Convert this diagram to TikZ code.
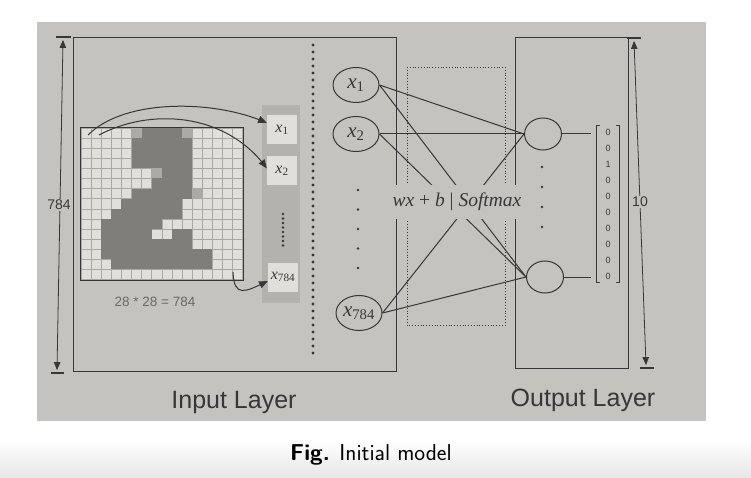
\documentclass[tikz,border=0pt]{standalone}
\usepackage{fontspec}
\setmainfont{Liberation Serif}
\newfontfamily\arialfont{Liberation Sans}
\usetikzlibrary{shapes,arrows,positioning}

\definecolor{pagina}{RGB}{197,195,192}
\definecolor{tinta}{RGB}{55,55,55}
\definecolor{celda}{RGB}{224,223,220}
\definecolor{rejilla}{RGB}{170,168,165}
\definecolor{oscuro}{RGB}{128,126,123}
\definecolor{medio}{RGB}{172,170,167}
\definecolor{franja}{RGB}{180,178,175}
\newcommand\varx[1]{\textit{x}\textsubscript{#1}}

\begin{document}
\begin{tikzpicture}[x=1pt,y=-1pt]
 \tikzset{neuron node/.style={ellipse, draw=tinta, line width=1pt, inner sep=0pt,
 		minimum width=46pt, minimum height=35pt, text=tinta,
 		font=\fontsize{21}{22}\selectfont}, }
 \tikzset{output node/.style={ellipse, draw=tinta, line width=1pt,
 		minimum width=37pt, minimum height=32pt}, }
 \tikzset{feature node/.style={rectangle, fill=celda, minimum width=30pt,
 		minimum height=29pt, inner sep=0pt, text=tinta,
 		font=\fontsize{16}{17}\selectfont}, }
 \tikzset{label node/.style={fill=pagina, inner xsep=2pt, inner ysep=8pt,
 		text=tinta, font=\fontsize{19.5}{21}\selectfont}, }
 \tikzset{dim node/.style={fill=pagina, inner sep=1pt, text=tinta,
 		font=\arialfont\fontsize{14}{15}\selectfont}, }
 \tikzset{vector node/.style={align=center, inner xsep=4pt, inner ysep=3pt,
 		minimum width=23pt, text=tinta, font=\arialfont\fontsize{9}{16}\selectfont}, }
 \tikzset{layer node/.style={text=tinta, font=\arialfont\fontsize{25}{28}\selectfont}, }
 \tikzset{linea/.style={draw=tinta, line width=1pt},}
 \tikzset{flecha/.style={-triangle 45, draw=tinta, line width=1pt},}
 \tikzset{cota/.style={triangle 45-triangle 45, draw=tinta, line width=0.8pt},}
 \tikzset{puntos/.style={draw=tinta, line width=3.4pt, line cap=round,
 		dash pattern=on 0pt off 7pt},}

 \useasboundingbox (0,0) rectangle (751,478);
 \fill[white] (0,0) rectangle (751,478);
 \shade[top color=white, bottom color=black!10] (0,440) rectangle (751,478);
 \fill[pagina] (37,22) rectangle (706,421);

 % capas
 \draw[linea] (73,38) rectangle (396,371);
 \draw[linea] (515,38) rectangle (628,368);
 \draw[draw=tinta, dotted, line width=0.8pt] (407,67) rectangle (505,325);
 \draw[puntos] (313,45) -- (313,355);

 % cotas
 \coordinate (a1) at (63,40);
 \coordinate (a2) at (57,370);
 \draw[cota] (a1) -- (a2);
 \draw[tinta, line width=1.6pt] (56,37) -- (71,37);
 \draw[tinta, line width=1.6pt] (51,373) -- (64,373);
 \node[dim node] (d1) at (59,205) {784};
 \coordinate (b1) at (634,41);
 \coordinate (b2) at (646,365);
 \draw[cota] (b1) -- (b2);
 \draw[tinta, line width=1.6pt] (627,38) -- (641,38);
 \draw[tinta, line width=1.6pt] (640,368) -- (654,368);
 \node[dim node] (d2) at (640,202) {10};

 % imagen 28x28
 \begin{scope}[shift={(81,128)}, x=10.1pt, y=-10.1pt]
 \fill[celda] (0,0) rectangle (16,15);
 \foreach \i in {0,...,16}
 \draw[rejilla, line width=0.5pt] (\i,0) -- (\i,15);
 \foreach \j in {0,...,15}
 \draw[rejilla, line width=0.5pt] (0,\j) -- (16,\j);
 \foreach \r/\a/\b in {0/6/9,1/5/10,2/5/10,3/5/10,4/8/10,5/7/10,6/5/10,
 		7/4/9,8/3/9,9/2/7,10/2/6,10/9/10,11/2/10,12/2/12,13/3/12}
 \fill[oscuro] (\a,\r) rectangle (\b+1,\r+1);
 \foreach \r/\c in {0/5,0/10,4/7,6/11}
 \fill[medio] (\c,\r) rectangle (\c+1,\r+1);
 \draw[tinta, line width=0.8pt] (-0.1,-0.1) rectangle (16.1,15.1);
 \end{scope}
 \node[text=tinta!75, font=\arialfont\fontsize{13.5}{15}\selectfont] (n) at (155,302) {28 * 28 = 784};

 % vector de entrada
 \fill[franja] (262,105) rectangle (300,303);
 \node[feature node] (f1) at (282,130) {\varx{1}};
 \node[feature node] (f2) at (282,171) {\varx{2}};
 \node[feature node] (f3) at (283,277) {\varx{784}};
 \draw[puntos, line width=2.6pt, dash pattern=on 0pt off 4.5pt] (283,214) -- (283,246);
 \coordinate (g1) at (88,135);
 \coordinate (g2) at (99,135);
 \coordinate (g3) at (233,272);
 \draw[flecha] (g1) .. controls (125,98) and (215,100) .. (f1.155);
 \draw[flecha] (g2) .. controls (150,108) and (225,112) .. (f2.170);
 \draw[flecha] (g3) .. controls (234,298) and (245,292) .. (f3.195);

 % red
 \node[neuron node] (1) at (356,85) {\varx{1}};
 \node[neuron node] (2) [below=13pt of 1] {\varx{2}};
 \node[neuron node] (3) at (359,313) {\varx{784}};
 \draw[puntos, line width=2.6pt, dash pattern=on 0pt off 19.5pt] (358,190) -- (358,270);
 \node[output node] (4) at (543,134) {};
 \node[output node] (5) at (545,277) {};
 \draw[puntos, line width=2.6pt, dash pattern=on 0pt off 20pt] (542,167) -- (542,247);
 \foreach \x /\y in{1/4,1/5,2/4,2/5,3/4,3/5}
 \draw[linea] (\x.east) -- (\y.west);
 \node[label node] (s) at (457,202) {\textit{wx} + \textit{b} | \textit{Softmax}};

 % salida
 \node[vector node] (v) at (608,204) {0\\0\\1\\0\\0\\0\\0\\0\\0\\0};
 \draw[tinta, line width=0.7pt] ([xshift=4pt]v.north west) -- (v.north west)
 		-- (v.south west) -- ([xshift=4pt]v.south west);
 \draw[tinta, line width=0.7pt] ([xshift=-4pt]v.north east) -- (v.north east)
 		-- (v.south east) -- ([xshift=-4pt]v.south east);
 \draw[linea, shorten >=5pt] (4.east) -- (4.east -| v.west);
 \draw[linea, shorten >=5pt] (5.east) -- (5.east -| v.west);

 \node[layer node] (il) at (234,402) {Input Layer};
 \node[layer node] (ol) at (583,400) {Output Layer};
 \node[text=black, font=\sffamily\fontsize{23}{26}\selectfont] (cap) at (371,455)
 		{\textbf{Fig.} Initial model};
\end{tikzpicture}
\end{document}
